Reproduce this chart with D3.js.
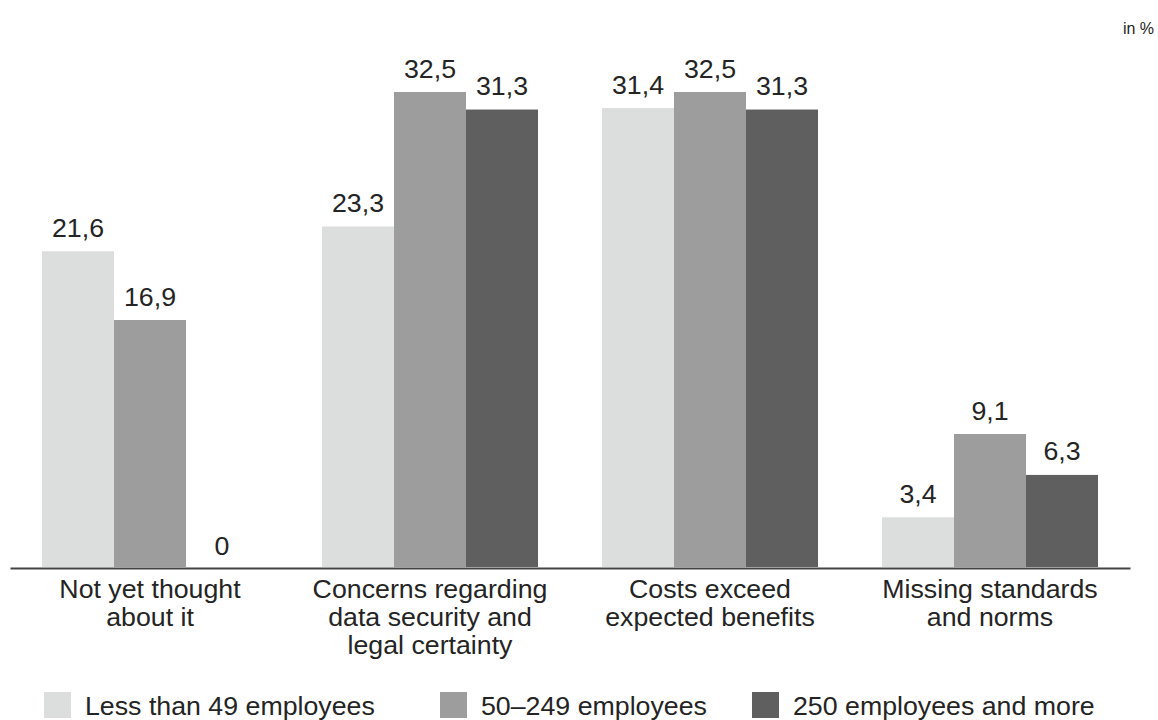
<!DOCTYPE html>
<html>
<head>
<meta charset="utf-8">
<script src="https://cdn.jsdelivr.net/npm/d3@7"></script>
<style>
  html, body { margin: 0; padding: 0; background: #fff; }
  svg { display: block; }
  text { font-family: "Liberation Sans", Arial, Helvetica, sans-serif; fill: #242424; }
</style>
</head>
<body>
<svg id="chart" width="1158" height="720"></svg>
<script>
// Reasons, grouped by company size (share in %)
const categories = [
  ["Not yet thought", "about it"],
  ["Concerns regarding", "data security and", "legal certainty"],
  ["Costs exceed", "expected benefits"],
  ["Missing standards", "and norms"]
];
const seriesNames = ["Less than 49 employees", "50–249 employees", "250 employees and more"];
const small  = [21.6, 23.3, 31.4, 3.4];
const medium = [16.9, 32.5, 32.5, 9.1];
const large  = [0,    31.3, 31.3, 6.3];
const seriesColors = ["#dcdedd", "#9d9d9d", "#5f5f5f"];
const unitLabel = "in %";

const values = [small, medium, large];
const catKeys = categories.map(c => c.join(" "));
const fmt = v => String(v).replace(".", ",");
const stretch = 1.07;

const svg = d3.select("#chart");

const x0 = d3.scaleBand()
  .domain(catKeys)
  .range([10, 1130])
  .paddingInner(64 / 280)
  .paddingOuter(32 / 280);

const x1 = d3.scaleBand()
  .domain(d3.range(seriesNames.length))
  .range([0, x0.bandwidth()]);

const y = d3.scaleLinear().domain([0, 32.5]).range([567, 92]);

// Bars
const groups = svg.append("g").selectAll("g")
  .data(catKeys)
  .join("g")
  .attr("transform", d => `translate(${x0(d)},0)`);

groups.selectAll("rect")
  .data((d, i) => values.map((s, j) => ({ s: j, v: s[i] })))
  .join("rect")
  .attr("x", d => x1(d.s))
  .attr("width", x1.bandwidth())
  .attr("y", d => y(d.v))
  .attr("height", d => y(0) - y(d.v))
  .attr("fill", d => seriesColors[d.s]);

// Value labels
groups.selectAll("text.val")
  .data((d, i) => values.map((s, j) => ({ s: j, v: s[i] })))
  .join("text")
  .attr("class", "val")
  .attr("text-anchor", "middle")
  .attr("font-size", 25)
  .attr("transform", d => `translate(${x1(d.s) + x1.bandwidth() / 2},${y(d.v) - (d.v === 0 ? 12 : 14.5)}) scale(${stretch},1)`)
  .text(d => fmt(d.v));

// Baseline axis
const axis = svg.append("g")
  .attr("transform", `translate(0,${y(0) + 1})`)
  .call(d3.axisBottom(x0).tickSize(0).tickFormat(""));
axis.select(".domain").attr("stroke", "#444").attr("stroke-width", 2);

// Category labels
const catLabels = svg.append("g").selectAll("g")
  .data(categories)
  .join("g");
catLabels.selectAll("text")
  .data((lines, i) => lines.map((l, k) => ({ l, k, key: catKeys[i] })))
  .join("text")
  .attr("text-anchor", "middle")
  .attr("font-size", 25)
  .attr("transform", d => `translate(${x0(d.key) + x0.bandwidth() / 2},${598 + d.k * 28}) scale(${stretch},1)`)
  .text(d => d.l);

// Unit label
svg.append("text")
  .attr("x", 1154)
  .attr("y", 34)
  .attr("text-anchor", "end")
  .attr("font-size", 16)
  .attr("font-family", "'Open Sans', sans-serif")
  .text(unitLabel);

// Legend
const legendX = [44, 440, 752];
const legend = svg.append("g").selectAll("g")
  .data(seriesNames)
  .join("g")
  .attr("transform", (d, i) => `translate(${legendX[i]},692)`);
legend.append("rect")
  .attr("width", 27).attr("height", 26)
  .attr("fill", (d, i) => seriesColors[i]);
legend.append("text")
  .attr("font-size", 25)
  .attr("transform", `translate(41,23) scale(${stretch},1)`)
  .text(d => d);
</script>
</body>
</html>
